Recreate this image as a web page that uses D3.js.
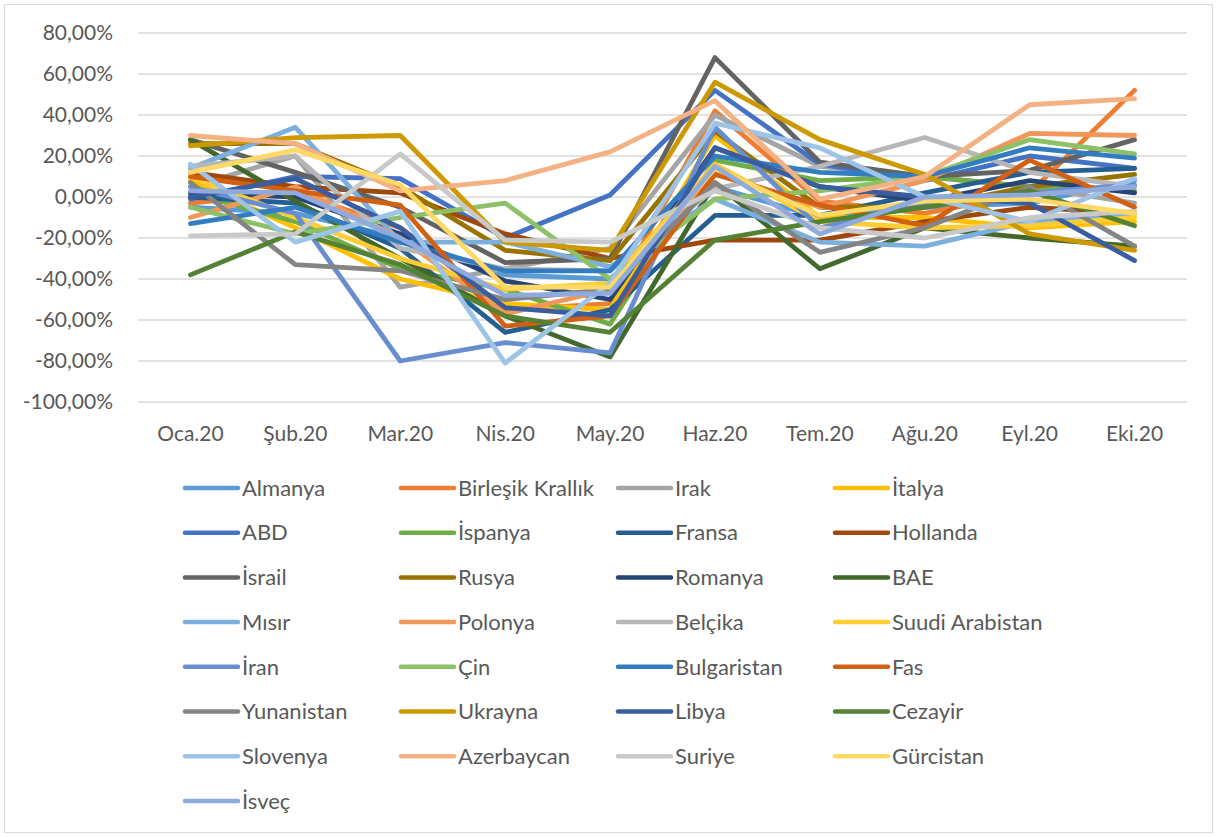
<!DOCTYPE html>
<html>
<head>
<meta charset="utf-8">
<script src="https://cdn.jsdelivr.net/npm/d3@7"></script>
<style>
  body { margin: 0; background: #fff; }
  text { font-family: Lato, "Open Sans", sans-serif; fill: #595959; }
</style>
</head>
<body>
<div id="chart"></div>
<script>
var months = ["Oca.20","Şub.20","Mar.20","Nis.20","May.20","Haz.20","Tem.20","Ağu.20","Eyl.20","Eki.20"];
var yTicks = [80,60,40,20,0,-20,-40,-60,-80,-100];

var countries = ["Almanya","Birleşik Krallık","Irak","İtalya","ABD","İspanya","Fransa","Hollanda",
  "İsrail","Rusya","Romanya","BAE","Mısır","Polonya","Belçika","Suudi Arabistan",
  "İran","Çin","Bulgaristan","Fas","Yunanistan","Ukrayna","Libya","Cezayir",
  "Slovenya","Azerbaycan","Suriye","Gürcistan","İsveç"];

var colors = ["#5B9BD5","#ED7D31","#A5A5A5","#FFC000","#4472C4","#70AD47","#255E91","#9E480E",
  "#636363","#997300","#264478","#43682B","#7CAFDD","#F1975A","#B7B7B7","#FFCD33",
  "#698ED0","#8CC168","#327DC2","#D26012","#848484","#CC9A00","#3A5DA0","#548235",
  "#9DC3E6","#F4B183","#C9C9C9","#FFD966","#8FAADC"];

// percent change per month, same order as countries
var almanya     = [-5,-8,-20,-38,-40,5,-10,-5,-3,8];
var birlesik    = [-3,2,-15,-55,-52,42,-2,-8,2,52];
var irak        = [5,20,-44,-35,-25,40,15,10,5,-3];
var italya      = [8,-15,-40,-52,-55,30,-10,-10,-15,-12];
var abd         = [-1,10,9,-20,1,52,16,8,20,14];
var ispanya     = [2,-12,-35,-45,-62,18,8,10,5,3];
var fransa      = [0,-3,-25,-66,-55,-9,-9,2,12,14];
var hollanda    = [12,5,2,-18,-30,-21,-21,-12,-5,-8];
var israil      = [28,12,-5,-32,-30,68,17,10,13,28];
var rusya       = [26,26,5,-26,-31,32,-5,-5,5,11];
var romanya     = [2,0,-18,-41,-50,24,5,-2,8,2];
var bae         = [28,-2,-30,-58,-78,7,-35,-15,-20,-24];
var misir       = [14,34,-22,-22,-34,-1,-22,-24,-12,-8];
var polonya     = [-10,5,-20,-57,-45,12,-5,8,31,30];
var belcika     = [15,20,-25,-35,-36,4,15,29,12,5];
var suudi       = [10,-10,-30,-45,-42,16,-12,-15,-14,-10];
var iran        = [5,-8,-80,-71,-76,34,-15,-3,2,6];
var cin         = [-5,-18,-10,-3,-40,-1,3,10,28,21];
var bulgaristan = [-13,-5,-22,-36,-36,20,12,10,24,19];
var fas         = [10,3,-4,-63,-58,11,-4,-14,18,-5];
var yunanistan  = [7,-33,-36,-50,-45,7,-27,-15,5,-24];
var ukrayna     = [25,29,30,-22,-26,56,28,11,-18,-26];
var libya       = [0,9,-15,-54,-58,24,5,0,-3,-31];
var cezayir     = [-38,-17,-33,-58,-66,-21,-12,-5,3,-14];
var slovenya    = [16,-22,-7,-81,-42,36,24,0,-12,9];
var azerbaycan  = [30,26,3,8,22,47,-1,10,45,48];
var suriye      = [-19,-18,21,-21,-22,3,-15,-20,-10,-7];
var gurcistan   = [12,23,6,-44,-44,14,-9,-2,-1,-8];
var isvec       = [3,2,-20,-48,-47,15,-18,0,1,5];

var seriesValues = [almanya,birlesik,irak,italya,abd,ispanya,fransa,hollanda,israil,rusya,
  romanya,bae,misir,polonya,belcika,suudi,iran,cin,bulgaristan,fas,yunanistan,ukrayna,
  libya,cezayir,slovenya,azerbaycan,suriye,gurcistan,isvec];

var W = 1217, H = 837;
var plot = {l:138, r:1187, t:33, b:402};

var svg = d3.select("#chart").append("svg").attr("width", W).attr("height", H);

svg.append("rect").attr("x",4.5).attr("y",4.5).attr("width",W-9).attr("height",H-9)
  .attr("fill","#fff").attr("stroke","#d9d9d9").attr("stroke-width",1);

var x = d3.scaleBand().domain(months).range([plot.l, plot.r]);
var y = d3.scaleLinear().domain([-100, 80]).range([plot.b, plot.t]);

// grid
svg.append("g").selectAll("line").data(yTicks).enter().append("line")
  .attr("x1", plot.l).attr("x2", plot.r)
  .attr("y1", function(d){ return y(d); }).attr("y2", function(d){ return y(d); })
  .attr("stroke", "#d9d9d9").attr("stroke-width", 1.3);

var yAxis = svg.append("g").attr("transform","translate(" + plot.l + ",0)")
  .call(d3.axisLeft(y).tickValues(yTicks).tickSize(0).tickPadding(25)
    .tickFormat(function(d){ return d3.format(".2f")(d).replace(".", ",").replace("−", "-") + "%"; }));
yAxis.select(".domain").remove();
yAxis.selectAll("text").style("font-size","21px").attr("fill","#595959");

var xAxis = svg.append("g").attr("transform","translate(0," + y(-100) + ")")
  .call(d3.axisBottom(x).tickSize(0).tickPadding(24));
xAxis.select(".domain").remove();
xAxis.selectAll("text").style("font-size","21px").attr("fill","#595959");

var line = d3.line()
  .x(function(d, i){ return x(months[i]) + x.bandwidth()/2; })
  .y(function(d){ return y(d); });

svg.append("g").selectAll("path").data(seriesValues).enter().append("path")
  .attr("d", line)
  .attr("fill","none")
  .attr("stroke", function(d, i){ return colors[i]; })
  .attr("stroke-width", 4.8)
  .attr("stroke-linejoin","round")
  .attr("stroke-linecap","round");

// legend, 4 columns
var colX = [185, 401, 618, 835];
var legend = svg.append("g").selectAll("g").data(countries).enter().append("g")
  .attr("transform", function(d, i){
    return "translate(" + colX[i % 4] + "," + (488 + Math.floor(i / 4) * 44.7) + ")";
  });
legend.append("line").attr("x1",0).attr("x2",53).attr("y1",0).attr("y2",0)
  .attr("stroke", function(d, i){ return colors[i]; })
  .attr("stroke-width",4.5).attr("stroke-linecap","round");
legend.append("text").attr("x",57).attr("y",0).attr("dy","0.35em")
  .style("font-size","22px").text(function(d){ return d; });
</script>
</body>
</html>
